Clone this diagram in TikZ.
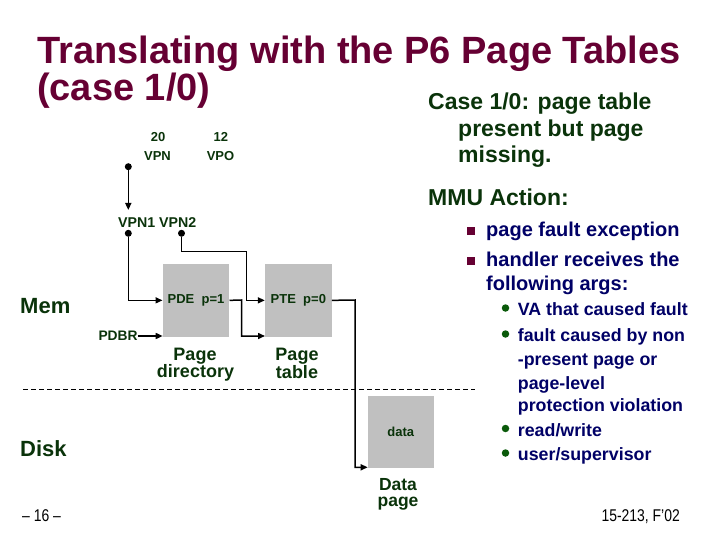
\documentclass[tikz,border=0pt]{standalone}
\usepackage{fontspec}
\setmainfont{Liberation Sans}
\usetikzlibrary{arrows.meta}
\definecolor{maroon}{HTML}{660033}
\definecolor{dgreen}{HTML}{0A330A}
\definecolor{navy}{HTML}{000066}
\definecolor{boxgray}{HTML}{C0C0C0}
\definecolor{bulgreen}{HTML}{0A5A0A}
\newcommand{\fs}[1]{\fontsize{#1}{#1}\selectfont\bfseries}
\begin{document}
\begin{tikzpicture}[x=1pt,y=-1pt,
  lbl/.style={inner sep=0pt, text=dgreen},
  small/.style={lbl, font=\fs{13}},
  mid/.style={lbl, font=\fs{18}},
  big/.style={lbl, font=\fs{22}},
  head/.style={lbl, font=\fs{23}},
  btxt/.style={inner sep=0pt, anchor=base west, text=navy, font=\fs{20}},
  stxt/.style={inner sep=0pt, anchor=base west, text=navy, font=\fs{17.8}},
  sq/.style={fill=maroon, inner sep=0pt, minimum size=8pt},
  cb/.style={circle, fill=bulgreen, inner sep=0pt, minimum size=7.5pt},
  dot/.style={circle, fill=black, inner sep=0pt, minimum size=7pt},
  pbox/.style={fill=boxgray, inner sep=0pt, text=dgreen, font=\fs{13}},
  conn/.style={line width=1.5pt, black},
  arr/.style={conn, -{Triangle[length=7pt,width=6pt]}},
  foot/.style={inner sep=0pt, font=\fontsize{17}{17}\selectfont}
]
\useasboundingbox (0,0) rectangle (720,540);

% title
\node[inner sep=0pt, anchor=base west, text=maroon, font=\fs{38}] (t1) at (37,64) {Translating with the P6 Page Tables};
\node[inner sep=0pt, anchor=base west, text=maroon, font=\fs{38}] (t2) at (37,101) {(case 1/0)};

% right column
\node[head, anchor=base west] (c1) at (428,110) {Case 1/0: page table};
\node[head, anchor=base west] (c2) at (458,137) {present but page};
\node[head, anchor=base west] (c3) at (458,163) {missing.};
\node[head, anchor=base west] (mmu) at (428,206) {MMU Action:};

\node[sq] (s1) at (471,231) {};
\node[btxt] (b1) at (486,236.7) {page fault exception};
\node[sq] (s2) at (471,260.5) {};
\node[btxt] (b2) at (486,266) {handler receives the};
\node[btxt] (b2b) at (486,290) {following args:};

\node[cb] (k1) at (505.5,308) {};
\node[stxt] (e1) at (517.7,315.7) {VA that caused fault};
\node[cb] (k2) at (505.5,334) {};
\node[stxt] (e2) at (517.7,341.7) {fault caused by non};
\node[stxt] (e2b) at (517.7,365.7) {-present page or};
\node[stxt] (e2c) at (517.7,389) {page-level};
\node[stxt] (e2d) at (517.7,411.7) {protection violation};
\node[cb] (k3) at (505.5,428.5) {};
\node[stxt] (e3) at (517.7,436) {read/write};
\node[cb] (k4) at (505.5,453) {};
\node[stxt] (e4) at (517.7,460.7) {user/supervisor};

% VA fields
\node[small, anchor=base] (n20) at (158,141.7) {20};
\node[small, anchor=base] (vpn) at (157.5,160.7) {VPN};
\node[small, anchor=base] (n12) at (220.8,141.7) {12};
\node[small, anchor=base] (vpo) at (220.5,160.7) {VPO};

\node[dot] (d0) at (128.3,166.7) {};
\coordinate (a0) at (128.3,210);
\draw[arr] (d0) -- (a0);

\node[small, anchor=base west, font=\fs{14.2}] (vpn12) at (118,227) {VPN1 VPN2};
\node[dot] (d1) at (128.3,233.3) {};
\node[dot] (d2) at (181.5,233.3) {};

% boxes
\node[pbox, minimum width=66.6pt, minimum height=72.7pt] (pde) at (196,300.35) {PDE\ \ p=1};
\node[pbox, minimum width=66.7pt, minimum height=72.7pt] (pte) at (298.35,300.35) {PTE\ \ p=0};
\node[pbox, minimum width=66.3pt, minimum height=72.3pt] (data) at (400.85,432.15) {data};

\node[mid, anchor=base] (pd1) at (195,360) {Page};
\node[mid, anchor=base] (pd2) at (195.5,377.3) {directory};
\node[mid, anchor=base] (pt1) at (297,360) {Page};
\node[mid, anchor=base] (pt2) at (297,378) {table};
\node[mid, anchor=base, font=\fs{17.5}] (dp1) at (398,490) {Data};
\node[mid, anchor=base, font=\fs{17.5}] (dp2) at (398,506) {page};

\node[small, anchor=base west, font=\fs{13.8}] (pdbr) at (98.3,340) {PDBR};

% connectors
\draw[arr] (d1) |- (pde.west);
\coordinate (j2) at (246.7,251.7);
\draw[arr] (d2) |- (j2) |- (pte.west);
\coordinate (j3) at (241.7,300);
\coordinate (pteIn) at (265,336);
\draw[arr] (pde.east) -- (j3) |- (pteIn);
\coordinate (pdeIn) at (162.7,336);
\draw[arr] (pdbr.east |- pdeIn) -- (pdeIn);
\coordinate (j4) at (355,300);
\coordinate (dataIn) at (367.7,467.3);
\draw[arr] (pte.east) -- (j4) |- (dataIn);

% mem/disk
\draw[line width=0.8pt, dash pattern=on 5pt off 3pt] (23,389) -- (475,389);
\node[big, anchor=base west] (mem) at (20,313) {Mem};
\node[big, anchor=base west] (disk) at (20,456.7) {Disk};

% footer
\node[foot, anchor=base west] (pg) at (22,521) {\scalebox{0.82}[1]{– 16 –}};
\node[foot, anchor=base east] (crs) at (680,521) {\scalebox{0.82}[1]{15-213, F'02}};
\end{tikzpicture}
\end{document}
